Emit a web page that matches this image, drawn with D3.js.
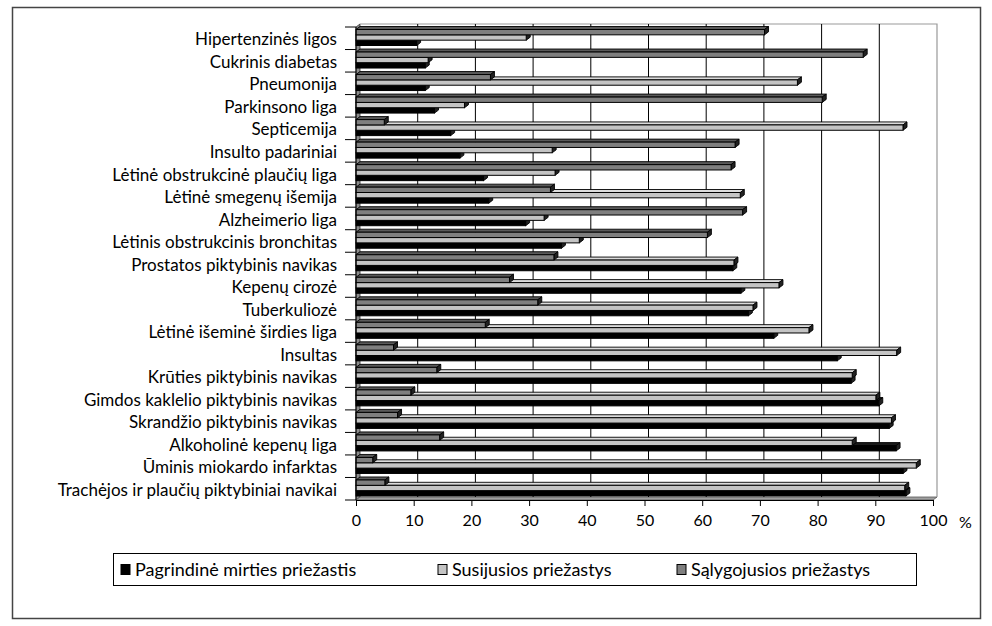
<!DOCTYPE html>
<html>
<head>
<meta charset="utf-8">
<script src="https://cdn.jsdelivr.net/npm/d3@7"></script>
<style>
  body { margin: 0; background: #fff; }
  svg { display: block; font-family: "Lato", "Noto Sans", sans-serif; }
</style>
</head>
<body>
<div id="chart"></div>
<script>
// Categories (top to bottom, as drawn)
const categories = [
  "Hipertenzinės ligos",
  "Cukrinis diabetas",
  "Pneumonija",
  "Parkinsono liga",
  "Septicemija",
  "Insulto padariniai",
  "Lėtinė obstrukcinė plaučių liga",
  "Lėtinė smegenų išemija",
  "Alzheimerio liga",
  "Lėtinis obstrukcinis bronchitas",
  "Prostatos piktybinis navikas",
  "Kepenų cirozė",
  "Tuberkuliozė",
  "Lėtinė išeminė širdies liga",
  "Insultas",
  "Krūties piktybinis navikas",
  "Gimdos kaklelio piktybinis navikas",
  "Skrandžio piktybinis navikas",
  "Alkoholinė kepenų liga",
  "Ūminis miokardo infarktas",
  "Trachėjos ir plaučių piktybiniai navikai"
];

// Series values (%)
const pagrindine = [10.5, 12, 12, 13.6, 16.4, 18, 22.1, 23, 29.4, 35.6, 65.3, 66.7, 68, 72.4, 83.4, 85.8, 90.6, 92.4, 93.6, 94.8, 95.3];
const susijusios = [29.5, 12.5, 76.5, 18.8, 94.8, 34, 34.5, 66.6, 32.6, 38.7, 65.5, 73.3, 68.8, 78.5, 93.7, 86, 90.1, 92.8, 86, 97.1, 95.1];
const salygojusios = [70.8, 87.9, 23.3, 80.8, 4.9, 65.7, 65, 33.7, 67, 60.9, 34.3, 26.6, 31.5, 22.4, 6.5, 14, 9.5, 7.2, 14.5, 2.9, 5];

const seriesNames = ["Pagrindinė mirties priežastis", "Susijusios priežastys", "Sąlygojusios priežastys"];
const seriesColors = ["#000000", "#c4c4c4", "#7f7f7f"];
const seriesTops = ["#1a1a1a", "#dcdcdc", "#5a5a5a"];
const xTicks = [0, 10, 20, 30, 40, 50, 60, 70, 80, 90, 100];

/************************************
 * Draw chart
 ************************************/
const w = 992;
const h = 626;
const dx = 4;   // depth offset
const dy = -3;

const svg = d3.select("#chart")
  .append("svg")
  .attr("width", w)
  .attr("height", h);

// outer frame
svg.append("rect")
  .attr("x", 12.5).attr("y", 7.5)
  .attr("width", 968).attr("height", 611)
  .attr("fill", "#fff")
  .attr("stroke", "#444")
  .attr("stroke-width", 1.5);

const xScale = d3.scaleLinear().domain([0, 100]).range([356, 933]);
const yScale = d3.scaleBand().domain(categories).range([27, 500]).paddingInner(0);
const bandH = yScale.bandwidth();

// order inside one category: top = Sąlygojusios, then Susijusios, then Pagrindinė
const inner = d3.scaleBand().domain([2, 1, 0]).range([2.5, 18.5]);

const x0 = xScale(0), x1 = xScale(100);
const yTop = 27, yBot = 500;

// left wall and floor
svg.append("path")
  .attr("d", `M${x0},${yTop} L${x0 + dx},${yTop + dy} L${x0 + dx},${yBot + dy} L${x0},${yBot} Z`)
  .attr("fill", "#8c8c8c").attr("stroke", "#333").attr("stroke-width", 0.8);
svg.append("path")
  .attr("d", `M${x0},${yBot} L${x0 + dx},${yBot + dy} L${x1 + dx},${yBot + dy} L${x1},${yBot} Z`)
  .attr("fill", "#a0a0a0").attr("stroke", "#555").attr("stroke-width", 0.8);

// back plane border (top + right)
svg.append("path")
  .attr("d", `M${x0 + dx},${yTop + dy} L${x1 + dx},${yTop + dy} L${x1 + dx},${yBot + dy}`)
  .attr("fill", "none").attr("stroke", "#999").attr("stroke-width", 1.2);

// gridlines
svg.append("g")
  .selectAll("line")
  .data(xTicks.filter(t => t > 0 && t < 100))
  .enter()
  .append("line")
  .attr("x1", d => xScale(d) + dx).attr("x2", d => xScale(d) + dx)
  .attr("y1", yTop + dy).attr("y2", yBot + dy)
  .attr("stroke", "#000").attr("stroke-width", 1);

// bars data: draw from bottom category up, and inside a category from bottom bar up
const seriesData = [pagrindine, susijusios, salygojusios];
const bars = [];
for (let c = categories.length - 1; c >= 0; c--) {
  for (let s = 0; s < 3; s++) {
    bars.push({ cat: categories[c], s: s, v: seriesData[s][c] });
  }
}

const barH = inner.bandwidth();
const barG = svg.append("g");

bars.forEach(d => {
  const y = yScale(d.cat) + inner(d.s);
  const xe = xScale(d.v);
  const g = barG.append("g");
  // top face
  g.append("path")
    .attr("d", `M${x0},${y} L${x0 + dx},${y + dy} L${xe + dx},${y + dy} L${xe},${y} Z`)
    .attr("fill", seriesTops[d.s]).attr("stroke", "#000").attr("stroke-width", 0.9);
  // end cap
  g.append("path")
    .attr("d", `M${xe},${y} L${xe + dx},${y + dy} L${xe + dx},${y + barH + dy} L${xe},${y + barH} Z`)
    .attr("fill", "#222").attr("stroke", "#000").attr("stroke-width", 0.9);
  // front face
  g.append("rect")
    .attr("x", x0).attr("y", y)
    .attr("width", xe - x0).attr("height", barH)
    .attr("fill", seriesColors[d.s]).attr("stroke", "#000").attr("stroke-width", 1);
});

// left axis line and boundary ticks
svg.append("line")
  .attr("x1", x0).attr("x2", x0).attr("y1", yTop).attr("y2", yBot)
  .attr("stroke", "#000").attr("stroke-width", 1);
svg.append("g")
  .selectAll("line")
  .data(d3.range(categories.length + 1))
  .enter()
  .append("line")
  .attr("x1", x0 - 11).attr("x2", x0)
  .attr("y1", i => yTop + i * bandH).attr("y2", i => yTop + i * bandH)
  .attr("stroke", "#000").attr("stroke-width", 1);

// category labels
const yAxis = d3.axisLeft(yScale).tickSize(0).tickPadding(19);
svg.append("g")
  .attr("transform", `translate(${x0},0)`)
  .call(yAxis)
  .call(g => g.select(".domain").remove())
  .selectAll("text")
  .attr("font-family", "Lato, 'Noto Sans', sans-serif")
  .attr("font-size", 17)
  .attr("fill", "#000")
  .attr("dy", "0.42em");

// x axis
const xAxis = d3.axisBottom(xScale).tickValues(xTicks).tickSize(6).tickSizeOuter(0).tickPadding(9);
svg.append("g")
  .attr("transform", `translate(0,${yBot})`)
  .call(xAxis)
  .call(g => g.select(".domain").attr("stroke", "#000"))
  .call(g => g.selectAll(".tick line").attr("stroke", "#000"))
  .selectAll("text")
  .attr("font-family", "Lato, 'Noto Sans', sans-serif")
  .attr("font-size", 16)
  .attr("fill", "#000");

svg.append("text")
  .attr("x", 959).attr("y", 528)
  .attr("font-size", 16)
  .text("%");

// legend
svg.append("rect")
  .attr("x", 113.5).attr("y", 553.5)
  .attr("width", 803).attr("height", 32)
  .attr("fill", "#fff").attr("stroke", "#000").attr("stroke-width", 1);

const legendX = [121, 438, 677];
seriesNames.forEach((name, i) => {
  svg.append("rect")
    .attr("x", legendX[i]).attr("y", 564.5)
    .attr("width", 9).attr("height", 10)
    .attr("fill", seriesColors[i]).attr("stroke", "#000").attr("stroke-width", 1);
  svg.append("text")
    .attr("x", legendX[i] + 14).attr("y", 576)
    .attr("font-size", 18)
    .text(name);
});
</script>
</body>
</html>
